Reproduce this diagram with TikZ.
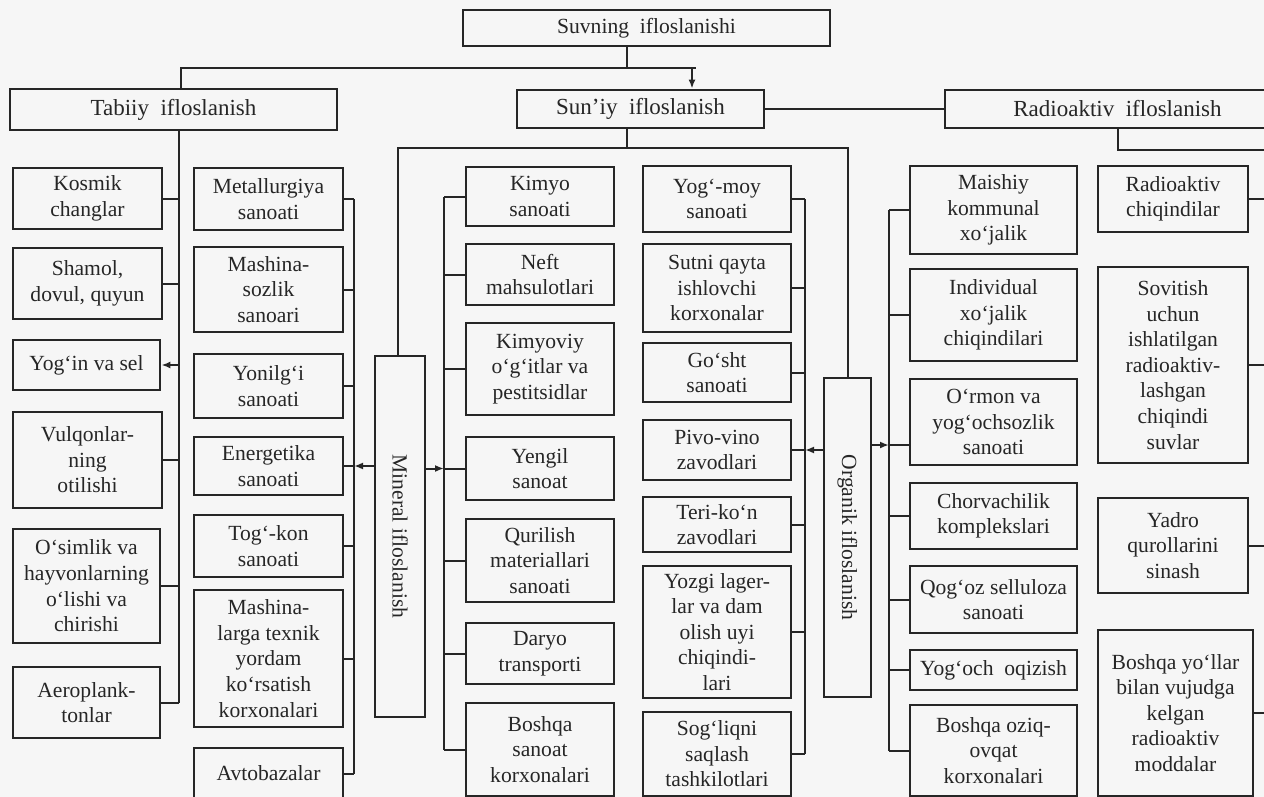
\documentclass[tikz,border=0pt]{standalone}
\usepackage{fontspec}
\setmainfont{Liberation Serif}
\usetikzlibrary{arrows.meta}
\definecolor{ink}{HTML}{262626}
\definecolor{paper}{HTML}{F6F6F6}
% box given by its left, top, right and bottom edge
\newcommand{\blok}[6]{\node[blk,minimum width={(#4-#2)*0.5pt},minimum height={(#5-#3)*0.5pt}] (#1) at ({(#2+#4)/2},{(#3+#5)/2}) {#6};}

\begin{document}
\begin{tikzpicture}[x=0.5pt,y=-0.5pt,>={Latex[length=4.5pt,width=3.5pt]},
  blk/.style={draw=ink,line width=1.4pt,inner sep=0pt,align=center,text=ink,
    font=\fontsize{10.8}{12.8}\selectfont},
  head/.style={font=\fontsize{11.5}{13}\selectfont},
  con/.style={draw=ink,line width=1pt}]
\path[use as bounding box,fill=paper] (0,0) rectangle (1264,797);

% top level
\blok{suv}{463}{10}{830}{46}{Suvning\ \ ifloslanishi}
\node[blk,head,minimum width=163.5pt,minimum height=20.5pt] (tab) at (173.5,109.5) {Tabiiy\ \ ifloslanish};
\node[blk,head,minimum width=123.5pt,minimum height=19pt] (sun) at (640.5,109) {Sun’iy\ \ ifloslanish};
\node[blk,head,minimum width=172.5pt,minimum height=19pt] (rad) at (1117.5,109) {Radioaktiv\ \ ifloslanish};
\blok{min}{375}{356}{425}{717}{\rotatebox{-90}{Mineral ifloslanish}}
\blok{org}{824}{378}{871}{697}{\rotatebox{-90}{Organik ifloslanish}}

% natural sources
\blok{kos}{13}{168}{162}{229}{Kosmik\\changlar}
\blok{sha}{13}{248}{162}{319}{Shamol,\\dovul,\ quyun}
\blok{yogin}{13}{340}{160}{390}{Yog‘in va sel}
\blok{vul}{13}{412}{162}{508}{Vulqonlar-\\ning\\otilishi}
\blok{osi}{13}{529}{160}{643}{O‘simlik va\\hayvonlarning\\o‘lishi va\\chirishi}
\blok{aer}{13}{667}{160}{738}{Aeroplank-\\tonlar}

% mineral, left column
\blok{met}{194}{168}{343}{230}{Metallurgiya\\sanoati}
\blok{mas}{194}{247}{343}{332}{Mashina-\\sozlik\\sanoari}
\blok{yon}{194}{354}{343}{418}{Yonilg‘i\\sanoati}
\blok{ene}{194}{437}{343}{495}{Energetika\\sanoati}
\blok{tog}{194}{515}{343}{577}{Tog‘-kon\\sanoati}
\blok{mtx}{194}{590}{343}{727}{Mashina-\\larga texnik\\yordam\\ko‘rsatish\\korxonalari}
\blok{avt}{194}{748}{343}{799}{Avtobazalar}

% mineral, right column
\blok{kim}{466}{167}{614}{226}{Kimyo\\sanoati}
\blok{nef}{466}{244}{614}{305}{Neft\\mahsulotlari}
\blok{kmo}{466}{323}{614}{415}{Kimyoviy\\o‘g‘itlar va\\pestitsidlar}
\blok{yen}{466}{437}{614}{500}{Yengil\\sanoat}
\blok{qur}{466}{519}{614}{602}{Qurilish\\materiallari\\sanoati}
\blok{dar}{466}{623}{614}{684}{Daryo\\transporti}
\blok{bsa}{466}{703}{614}{796}{Boshqa\\sanoat\\korxonalari}

% organik, left column
\blok{yog}{643}{166}{791}{232}{Yog‘-moy\\sanoati}
\blok{sut}{643}{244}{791}{332}{Sutni qayta\\ishlovchi\\korxonalar}
\blok{gos}{643}{343}{791}{402}{Go‘sht\\sanoati}
\blok{piv}{643}{420}{791}{480}{Pivo-vino\\zavodlari}
\blok{ter}{643}{497}{791}{552}{Teri-ko‘n\\zavodlari}
\blok{yoz}{643}{566}{791}{698}{Yozgi lager-\\lar va dam\\olish\ uyi\\chiqindi-\\lari}
\blok{sog}{643}{712}{791}{796}{Sog‘liqni\\saqlash\\tashkilotlari}

% organik, right column
\blok{mai}{910}{166}{1077}{254}{Maishiy\\kommunal\\xo‘jalik}
\blok{ind}{910}{269}{1077}{361}{Individual\\xo‘jalik\\chiqindilari}
\blok{orm}{910}{379}{1077}{465}{O‘rmon va\\yog‘ochsozlik\\sanoati}
\blok{cho}{910}{483}{1077}{549}{Chorvachilik\\komplekslari}
\blok{qog}{910}{566}{1077}{633}{Qog‘oz selluloza\\sanoati}
\blok{yoc}{910}{650}{1077}{690}{Yog‘och\ \ oqizish}
\blok{boz}{910}{705}{1077}{796}{Boshqa oziq-\\ovqat\\korxonalari}

% radioactive
\blok{rch}{1098}{166}{1248}{232}{Radioaktiv\\chiqindilar}
\blok{sov}{1098}{267}{1248}{463}{Sovitish\\uchun\\ishlatilgan\\radioaktiv-\\lashgan\\chiqindi\\suvlar}
\blok{yad}{1098}{498}{1248}{593}{Yadro\\qurollarini\\sinash}
\blok{bye}{1098}{630}{1253}{796}{Boshqa\ yo‘llar\\bilan vujudga\\kelgan\\radioaktiv\\moddalar}

% bus lines
\coordinate (tk) at (627,0);
\coordinate (tl) at (181,68);
\coordinate (tr) at (692,68);
\coordinate (sl) at (398,148);
\coordinate (sr) at (848,148);
\coordinate (rb) at (1267,150);
\coordinate (b1) at (179,0);
\coordinate (b2) at (354,0);
\coordinate (b3) at (444,0);
\coordinate (b4) at (805,0);
\coordinate (b5) at (889,0);
\coordinate (oy) at (0,445);

\draw[con] (suv.south -| tk) -- (tk |- tl);
\draw[con] (tl |- tab.north) -- (tl) -- ([xshift=2pt]tr);
\draw[con,->] (tr) -- (tr |- sun.north);
\draw[con] (sun.east) -- (sun.east -| rad.west);
\draw[con] (sun.south -| tk) -- (tk |- sl);
\draw[con] (sl |- min.north) -- (sl) -- (sr) -- (sr |- org.north);
\draw[con] (rad.south) |- (rb) -- (rb |- bye.east);

\draw[con] (b1 |- tab.south) -- (b1 |- aer.east);
\draw[con] (kos.east) -- (kos.east -| b1);
\draw[con] (sha.east) -- (sha.east -| b1);
\draw[con,->] (yogin.east -| b1) -- (yogin.east);
\draw[con] (vul.east) -- (vul.east -| b1);
\draw[con] (osi.east) -- (osi.east -| b1);
\draw[con] (aer.east) -- (aer.east -| b1);

\draw[con] (b2 |- met.east) -- (b2 |- avt.east);
\draw[con] (met.east) -- (met.east -| b2);
\draw[con] (mas.east) -- (mas.east -| b2);
\draw[con] (yon.east) -- (yon.east -| b2);
\draw[con] (ene.east) -- (ene.east -| b2);
\draw[con] (tog.east) -- (tog.east -| b2);
\draw[con] (mtx.east) -- (mtx.east -| b2);
\draw[con] (avt.east) -- (avt.east -| b2);
\draw[con,->] (min.west |- ene.east) -- (b2 |- ene.east);

\draw[con] (b3 |- kim.west) -- (b3 |- bsa.west);
\draw[con] (kim.west) -- (kim.west -| b3);
\draw[con] (nef.west) -- (nef.west -| b3);
\draw[con] (kmo.west) -- (kmo.west -| b3);
\draw[con] (yen.west) -- (yen.west -| b3);
\draw[con] (qur.west) -- (qur.west -| b3);
\draw[con] (dar.west) -- (dar.west -| b3);
\draw[con] (bsa.west) -- (bsa.west -| b3);
\draw[con,->] (min.east |- yen.west) -- (b3 |- yen.west);

\draw[con] (b4 |- yog.east) -- (b4 |- sog.east);
\draw[con] (yog.east) -- (yog.east -| b4);
\draw[con] (sut.east) -- (sut.east -| b4);
\draw[con] (gos.east) -- (gos.east -| b4);
\draw[con] (piv.east) -- (piv.east -| b4);
\draw[con] (ter.east) -- (ter.east -| b4);
\draw[con] (yoz.east) -- (yoz.east -| b4);
\draw[con] (sog.east) -- (sog.east -| b4);
\draw[con,->] (org.west |- piv.east) -- (b4 |- piv.east);

\draw[con] (b5 |- mai.west) -- (b5 |- boz.west);
\draw[con] (mai.west) -- (mai.west -| b5);
\draw[con] (ind.west) -- (ind.west -| b5);
\draw[con] (orm.west |- oy) -- (b5 |- oy);
\draw[con] (cho.west) -- (cho.west -| b5);
\draw[con] (qog.west) -- (qog.west -| b5);
\draw[con] (yoc.west) -- (yoc.west -| b5);
\draw[con] (boz.west) -- (boz.west -| b5);
\draw[con,->] (org.east |- oy) -- (b5 |- oy);

\draw[con] (rch.east) -- (rch.east -| rb);
\draw[con] (sov.east) -- (sov.east -| rb);
\draw[con] (yad.east) -- (yad.east -| rb);
\draw[con] (bye.east) -- (bye.east -| rb);
\end{tikzpicture}
\end{document}
